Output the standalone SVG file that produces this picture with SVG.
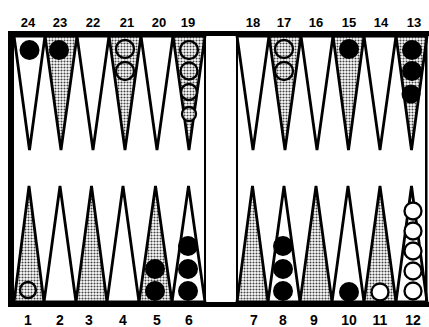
<svg xmlns="http://www.w3.org/2000/svg" width="429" height="327" viewBox="0 0 429 327">
<defs>
<pattern id="dots" width="3" height="3" patternUnits="userSpaceOnUse">
<rect width="3" height="3" fill="#fff"/>
<circle cx="1.5" cy="1.5" r="1.05" fill="#444"/>
</pattern>
</defs>
<style>
.pt{stroke:#000;stroke-width:2.8;stroke-linejoin:miter;fill:#fff}
.sh{fill:url(#dots)}
.blk{fill:#000;stroke:#000;stroke-width:2}
.ring{fill:url(#dots);stroke:#000;stroke-width:2.3}
.wring{fill:#fff;stroke:#000;stroke-width:2.3}
.lbl{font-family:"Liberation Sans",Arial,sans-serif;font-weight:bold;text-anchor:middle;fill:#000}
.top{font-size:13px}
.bot{font-size:14px}
</style>
<rect width="429" height="327" fill="#fff"/>
<g id="points-top">
<polygon class="pt" points="14,36 45,36 29.5,150"/>
<polygon class="pt sh" points="45,36 77,36 61,150"/>
<polygon class="pt" points="77,36 109,36 93,150"/>
<polygon class="pt sh" points="109,36 141,36 125,150"/>
<polygon class="pt" points="141,36 173,36 157,150"/>
<polygon class="pt sh" points="173,36 205,36 189,150"/>
<polygon class="pt" points="237,36 269,36 253,150"/>
<polygon class="pt sh" points="269,36 301,36 285,150"/>
<polygon class="pt" points="301,36 333,36 317,150"/>
<polygon class="pt sh" points="333,36 364,36 348.5,150"/>
<polygon class="pt" points="364,36 396,36 380,150"/>
<polygon class="pt sh" points="396,36 427,36 411.5,150"/>
</g>
<g id="points-bottom">
<polygon class="pt sh" points="14,302 44,302 29,186"/>
<polygon class="pt" points="44,302 76,302 60,186"/>
<polygon class="pt sh" points="76,302 107,302 91.5,186"/>
<polygon class="pt" points="107,302 139,302 123,186"/>
<polygon class="pt sh" points="139,302 172,302 155.5,186"/>
<polygon class="pt" points="172,302 205,302 188.5,186"/>
<polygon class="pt sh" points="237,302 268,302 252.5,186"/>
<polygon class="pt" points="268,302 300,302 284,186"/>
<polygon class="pt sh" points="300,302 332,302 316,186"/>
<polygon class="pt" points="332,302 364,302 348,186"/>
<polygon class="pt sh" points="364,302 396,302 380,186"/>
<polygon class="pt" points="396,302 427,302 411.5,186"/>
</g>
<g id="frame" fill="#000">
<rect x="8" y="31" width="421" height="5"/>
<rect x="8" y="31" width="6" height="276"/>
<rect x="8" y="302" width="421" height="5"/>
<rect x="425" y="31" width="2.5" height="276"/>
<rect x="204" y="31" width="2" height="276"/>
<rect x="236" y="31" width="2" height="276"/>
</g>
<g id="checkers-top">
<circle class="blk" cx="29.5" cy="50" r="9"/>
<circle class="blk" cx="59" cy="50" r="9"/>
<circle class="ring" cx="125" cy="49" r="9"/>
<circle class="ring" cx="125" cy="71" r="9"/>
<circle class="ring" cx="189" cy="50" r="9"/>
<circle class="ring" cx="189" cy="71" r="8.5"/>
<circle class="ring" cx="189" cy="92" r="8"/>
<circle class="ring" cx="189" cy="114" r="7"/>
<circle class="ring" cx="284" cy="49" r="9"/>
<circle class="ring" cx="284" cy="71" r="9"/>
<circle class="blk" cx="349" cy="49" r="9"/>
<circle class="blk" cx="412" cy="50" r="9"/>
<circle class="blk" cx="412" cy="71" r="9"/>
<circle class="blk" cx="411" cy="94" r="8.5"/>
</g>
<g id="checkers-bottom">
<circle class="ring" cx="28" cy="290" r="8"/>
<circle class="blk" cx="155" cy="269" r="9"/>
<circle class="blk" cx="155" cy="291" r="9"/>
<circle class="blk" cx="188" cy="246" r="9"/>
<circle class="blk" cx="188" cy="269" r="9"/>
<circle class="blk" cx="188" cy="291" r="9"/>
<circle class="blk" cx="283" cy="246" r="9"/>
<circle class="blk" cx="283" cy="269" r="9"/>
<circle class="blk" cx="283" cy="291" r="9"/>
<circle class="blk" cx="349" cy="292" r="9"/>
<circle class="wring" cx="380" cy="292" r="8.5"/>
<circle class="wring" cx="413" cy="211" r="8.5"/>
<circle class="wring" cx="413" cy="231" r="8.5"/>
<circle class="wring" cx="413" cy="251" r="8.5"/>
<circle class="wring" cx="413" cy="271" r="8.5"/>
<circle class="wring" cx="413" cy="291" r="8.5"/>
</g>
<g id="labels-top" class="lbl top">
<text x="28" y="27">24</text>
<text x="60" y="27">23</text>
<text x="93" y="27">22</text>
<text x="127" y="27">21</text>
<text x="159" y="27">20</text>
<text x="188" y="27">19</text>
<text x="253" y="27">18</text>
<text x="284" y="27">17</text>
<text x="316" y="27">16</text>
<text x="349" y="27">15</text>
<text x="381" y="27">14</text>
<text x="414" y="27">13</text>
</g>
<g id="labels-bottom" class="lbl bot">
<text x="28" y="325">1</text>
<text x="60" y="325">2</text>
<text x="89" y="325">3</text>
<text x="123" y="325">4</text>
<text x="157" y="325">5</text>
<text x="189" y="325">6</text>
<text x="254" y="325">7</text>
<text x="283" y="325">8</text>
<text x="314" y="325">9</text>
<text x="349" y="325">10</text>
<text x="380" y="325">11</text>
<text x="413" y="325">12</text>
</g>
</svg>
